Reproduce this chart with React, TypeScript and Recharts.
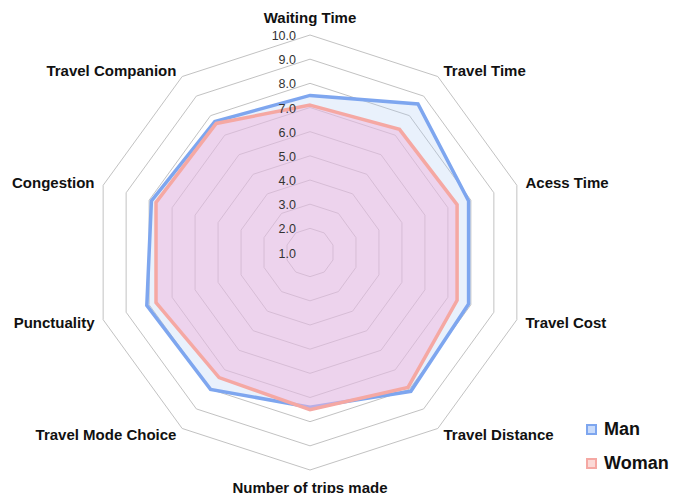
import { RadarChart, Radar, PolarGrid, PolarAngleAxis, PolarRadiusAxis, Legend } from 'recharts';

const categories = [
  'Waiting Time',
  'Travel Time',
  'Acess Time',
  'Travel Cost',
  'Travel Distance',
  'Number of trips made',
  'Travel Mode Choice',
  'Punctuality',
  'Congestion',
  'Travel Companion',
];
const manValues = [7.5, 8.6, 7.9, 7.9, 8.1, 7.4, 8.0, 8.1, 7.9, 7.7];
const womanValues = [7.1, 7.3, 7.4, 7.4, 7.9, 7.5, 7.4, 7.7, 7.7, 7.6];
const radiusTicks = [1, 2, 3, 4, 5, 6, 7, 8, 9, 10];

const data = categories.map((name, i) => ({
  name,
  man: manValues[i],
  woman: womanValues[i],
}));

const CX = 310;
const CY = 252.5;
const FONT = '"Liberation Sans", Arial, sans-serif';

const MAN_STROKE = '#7ea6ef';
const WOMAN_STROKE = '#f5a8a3';

function AngleTick(props: any) {
  const { x, y, textAnchor, payload } = props;
  // top and bottom labels sit a bit further out than the side ones
  let dy = 0;
  if (textAnchor === 'middle') dy = y < CY ? -10 : 9;
  const dx = textAnchor === 'start' ? 1 : textAnchor === 'end' ? -1 : 0;
  return (
    <text
      x={x + dx}
      y={y + dy}
      textAnchor={textAnchor}
      dominantBaseline="central"
      fontFamily={FONT}
      fontWeight="bold"
      fontSize={15}
      fill="#111"
    >
      {payload.value}
    </text>
  );
}

function RadiusTick(props: any) {
  const { x, y, payload } = props;
  return (
    <text
      x={x - 14}
      y={y + 1}
      textAnchor="end"
      dominantBaseline="central"
      fontFamily={FONT}
      fontSize={12.5}
      fill="#333"
    >
      {Number(payload.value).toFixed(1)}
    </text>
  );
}

function LegendBox() {
  const items = [
    { label: 'Man', color: MAN_STROKE, inner: '#c9dbfa' },
    { label: 'Woman', color: WOMAN_STROKE, inner: '#fbd9d6' },
  ];
  return (
    <div style={{ fontFamily: FONT }}>
      {items.map((it, i) => (
        <div key={it.label} style={{ display: 'flex', alignItems: 'center', height: 22, marginBottom: i === 0 ? 12 : 0 }}>
          <span
            style={{
              display: 'inline-block',
              width: 7,
              height: 7,
              border: `2px solid ${it.color}`,
              background: it.inner,
              marginRight: 7,
            }}
          />
          <span style={{ fontSize: 18, fontWeight: 'bold', color: '#111' }}>{it.label}</span>
        </div>
      ))}
    </div>
  );
}

export default function App() {
  return (
    <div style={{ position: 'fixed', left: 0, top: 0, width: 676, height: 493, background: '#fff' }}>
      <RadarChart width={676} height={493} data={data} cx={CX} cy={CY} outerRadius={217.5}>
        <PolarGrid gridType="polygon" radialLines={false} stroke="#c2c2c2" strokeWidth={1} />
        <PolarAngleAxis dataKey="name" tick={<AngleTick />} tickLine={false} axisLine={false} />
        <PolarRadiusAxis
          angle={90}
          domain={[1, 10]}
          ticks={radiusTicks}
          tick={<RadiusTick />}
          axisLine={false}
          tickLine={false}
        />
        <Radar
          name="Man"
          dataKey="man"
          stroke={MAN_STROKE}
          strokeWidth={3.5}
          fill="#a9c6f5"
          fillOpacity={0.25}
          isAnimationActive={false}
        />
        <Radar
          name="Woman"
          dataKey="woman"
          stroke={WOMAN_STROKE}
          strokeWidth={3.5}
          fill="#f2b6de"
          fillOpacity={0.5}
          isAnimationActive={false}
        />
        <Legend
          content={() => <LegendBox />}
          layout="vertical"
          wrapperStyle={{ position: 'absolute', left: 586, top: 418, width: 90 }}
        />
      </RadarChart>
    </div>
  );
}
